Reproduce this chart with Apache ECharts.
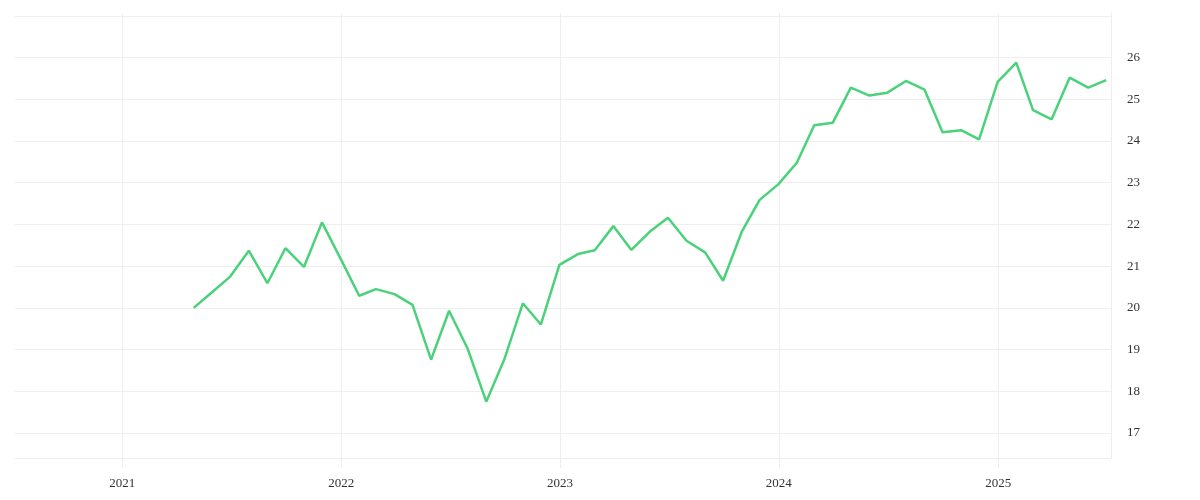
<!DOCTYPE html>
<html>
<head>
<meta charset="utf-8">
<script src="https://cdn.jsdelivr.net/npm/echarts@6/dist/echarts.min.js"></script>
<style>html,body{margin:0;padding:0;background:#fff}#chart{width:1200px;height:500px}</style>
</head>
<body>
<div id="chart"></div>
<script>
const dates = [
  '2021-04-30','2021-05-31','2021-06-30','2021-07-31','2021-08-31','2021-09-30','2021-10-31','2021-11-30','2021-12-31',
  '2022-01-31','2022-02-28','2022-03-31','2022-04-30','2022-05-31','2022-06-30','2022-07-31','2022-08-31','2022-09-30','2022-10-31','2022-11-30','2022-12-31',
  '2023-01-31','2023-02-28','2023-03-31','2023-04-30','2023-05-31','2023-06-30','2023-07-31','2023-08-31','2023-09-30','2023-10-31','2023-11-30','2023-12-31',
  '2024-01-31','2024-02-29','2024-03-31','2024-04-30','2024-05-31','2024-06-30','2024-07-31','2024-08-31','2024-09-30','2024-10-31','2024-11-30','2024-12-31',
  '2025-01-31','2025-02-28','2025-03-31','2025-04-30','2025-05-31','2025-06-30'
];
const values = [
  20.00, 20.38, 20.75, 21.37, 20.59, 21.43, 20.98, 22.05, 21.18,
  20.29, 20.45, 20.33, 20.07, 18.76, 19.93, 19.02, 17.75, 18.76, 20.11, 19.60, 21.03,
  21.29, 21.38, 21.96, 21.39, 21.83, 22.16, 21.61, 21.33, 20.65, 21.82, 22.59, 22.96,
  23.48, 24.38, 24.44, 25.28, 25.09, 25.16, 25.44, 25.23, 24.21, 24.26, 24.04, 25.42,
  25.88, 24.74, 24.52, 25.52, 25.28, 25.46
];
const xMin = '2020-07-06';
const xMax = '2025-07-08';
const yMin = 16.4;
const yMax = 27.07;

const chart = echarts.init(document.getElementById('chart'));
const gridColor = '#eeeeee';
const font = 'Liberation Serif';
chart.setOption({
  animation: false,
  grid: { left: 15, right: 89, top: 13, bottom: 42, containLabel: false },
  xAxis: {
    type: 'time',
    min: xMin,
    max: xMax,
    splitNumber: 5,
    minInterval: 365 * 24 * 3600 * 1000,
    axisLine: { show: false },
    axisTick: { show: true, length: 10, lineStyle: { color: gridColor } },
    splitLine: { show: true, showMinLine: false, showMaxLine: false, lineStyle: { color: gridColor, width: 1 } },
    axisLabel: {
      formatter: '{yyyy}',
      color: '#333',
      fontFamily: font,
      fontSize: 13,
      margin: 19,
      showMinLabel: false,
      showMaxLabel: false
    }
  },
  yAxis: {
    type: 'value',
    position: 'right',
    min: yMin,
    max: yMax,
    splitNumber: 10,
    axisLine: { show: true, lineStyle: { color: gridColor } },
    axisTick: { show: false },
    splitLine: { show: true, showMaxLine: false, lineStyle: { color: gridColor, width: 1 } },
    axisLabel: {
      color: '#333',
      fontFamily: font,
      fontSize: 13,
      margin: 16,
      formatter: function (v) {
        return (Number.isInteger(v) && v >= 17 && v <= 26) ? String(v) : '';
      }
    }
  },
  series: [{
    type: 'line',
    data: dates.map((d, i) => [d, values[i]]),
    showSymbol: false,
    symbol: 'none',
    lineStyle: { color: '#4ad27b', width: 2.5 },
    itemStyle: { color: '#4ad27b' }
  }]
});
</script>
</body>
</html>
